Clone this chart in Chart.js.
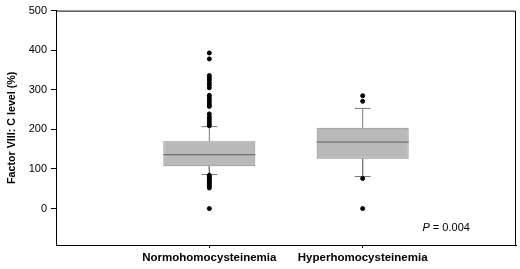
<!DOCTYPE html>
<html>
<head>
<meta charset="utf-8">
<script src="https://cdn.jsdelivr.net/npm/chart.js@4"></script>
<style>
  html, body { margin: 0; padding: 0; background: #fff; }
  #wrap { width: 520px; height: 269px; position: relative; }
</style>
</head>
<body>
<div id="wrap"><canvas id="c"></canvas></div>
<script>
const GROUPS = ['Normohomocysteinemia', 'Hyperhomocysteinemia'];
const GROUP_X = [1, 2];
const Q1 = [107, 126];
const MEDIAN = [136, 168];
const Q3 = [170, 204];
const WHISKER_LOW = [86, 81];
const WHISKER_HIGH = [207, 253];
const OUTLIERS = [
  [393, 378, 336, 330, 325, 318, 312, 305, 286, 280, 274, 268, 262, 258,
   239, 232, 226, 220, 214, 209, 84, 80, 76, 72, 68, 64, 60, 56, 52, 0],
  [285, 271, 76, 0],
];
const Y_TICKS = [0, 100, 200, 300, 400, 500];
const P_TEXT = '= 0.004';

const BOX_HALF = 0.3;
const CAP_HALF = 0.052;

function el(id) { return document.getElementById(id); }

// whiskers + caps as one line dataset, broken with nulls
const whiskerPts = [];
const medianPts = [];
GROUP_X.forEach((x, i) => {
  whiskerPts.push({ x, y: Q3[i] }, { x, y: WHISKER_HIGH[i] }, { x, y: null });
  whiskerPts.push({ x: x - CAP_HALF, y: WHISKER_HIGH[i] }, { x: x + CAP_HALF, y: WHISKER_HIGH[i] }, { x, y: null });
  whiskerPts.push({ x, y: Q1[i] }, { x, y: WHISKER_LOW[i] }, { x, y: null });
  whiskerPts.push({ x: x - CAP_HALF, y: WHISKER_LOW[i] }, { x: x + CAP_HALF, y: WHISKER_LOW[i] }, { x, y: null });
  medianPts.push({ x: x - BOX_HALF, y: MEDIAN[i] }, { x: x + BOX_HALF, y: MEDIAN[i] }, { x, y: null });
});
const outlierPts = [];
OUTLIERS.forEach((arr, i) => arr.forEach(v => outlierPts.push({ x: GROUP_X[i], y: v })));

const frame = {
  id: 'frame',
  afterDraw(chart) {
    const { ctx, chartArea: a, scales } = chart;
    ctx.save();
    ctx.strokeStyle = '#000';
    ctx.lineWidth = 1;
    ctx.beginPath();
    ctx.moveTo(a.left, a.top + 0.5); ctx.lineTo(Math.round(a.right) - 0.5, a.top + 0.5);
    ctx.lineTo(Math.round(a.right) - 0.5, a.bottom);
    ctx.stroke();
    // p-value note
    const px = scales.x.getPixelForValue(2.39);
    const py = scales.y.getPixelForValue(-49);
    ctx.fillStyle = '#000';
    ctx.textBaseline = 'middle';
    ctx.font = 'italic 11px "Liberation Sans", Arial, sans-serif';
    ctx.fillText('P', px, py);
    const w = ctx.measureText('P ').width;
    ctx.font = '11px "Liberation Sans", Arial, sans-serif';
    ctx.fillText(P_TEXT, px + w, py);
    ctx.restore();
  }
};

new Chart(el('c').getContext('2d'), {
  type: 'bar',
  data: {
    datasets: [
      { type: 'scatter', data: outlierPts, backgroundColor: '#000', borderColor: '#000',
        pointRadius: 2, pointHoverRadius: 2, order: 0 },
      { type: 'line', data: medianPts, borderColor: '#5e5e5e', borderWidth: 1,
        pointRadius: 0, spanGaps: false, order: 1 },
      { type: 'bar', data: GROUP_X.map((x, i) => ({ x, y: [Q1[i], Q3[i]] })),
        backgroundColor: '#b9b9b9', borderColor: '#858585', borderWidth: 1,
        borderSkipped: false, barPercentage: 0.6, categoryPercentage: 1, order: 2 },
      { type: 'line', data: whiskerPts, borderColor: '#7a7a7a', borderWidth: 1,
        pointRadius: 0, spanGaps: false, order: 3 },
    ],
  },
  options: {
    responsive: true, maintainAspectRatio: false, animation: false,
    layout: { padding: { top: 8, right: 4, left: 0, bottom: 0 } },
    plugins: { legend: { display: false }, tooltip: { enabled: false } },
    scales: {
      x: {
        type: 'linear', min: 0, max: 3, offset: false,
        afterBuildTicks: s => { s.ticks = GROUP_X.map(v => ({ value: v })); },
        afterFit: s => { s.height = 24; },
        grid: { drawOnChartArea: false, offset: false, tickLength: 3, color: '#000' },
        border: { color: '#000', width: 1 },
        ticks: {
          color: '#000', padding: 3, maxRotation: 0, autoSkip: false,
          font: { family: '"Liberation Sans", Arial, sans-serif', size: 11.5, weight: 'bold' },
          callback: v => GROUPS[GROUP_X.indexOf(v)] || '',
        },
      },
      y: {
        min: -92, max: 500,
        afterBuildTicks: s => { s.ticks = Y_TICKS.map(v => ({ value: v })); },
        afterFit: s => { s.width = 56; },
        grid: { drawOnChartArea: false, tickLength: 5, color: '#000' },
        border: { color: '#000', width: 1 },
        ticks: { color: '#000', padding: 4,
                 font: { family: '"Liberation Sans", Arial, sans-serif', size: 11 } },
        title: { display: true, text: 'Factor VIII: C level (%)', color: '#000', padding: { top: 6, bottom: 1 },
                 font: { family: '"Liberation Sans", Arial, sans-serif', size: 10.7, weight: 'bold' } },
      },
    },
  },
  plugins: [frame],
});
</script>
</body>
</html>
